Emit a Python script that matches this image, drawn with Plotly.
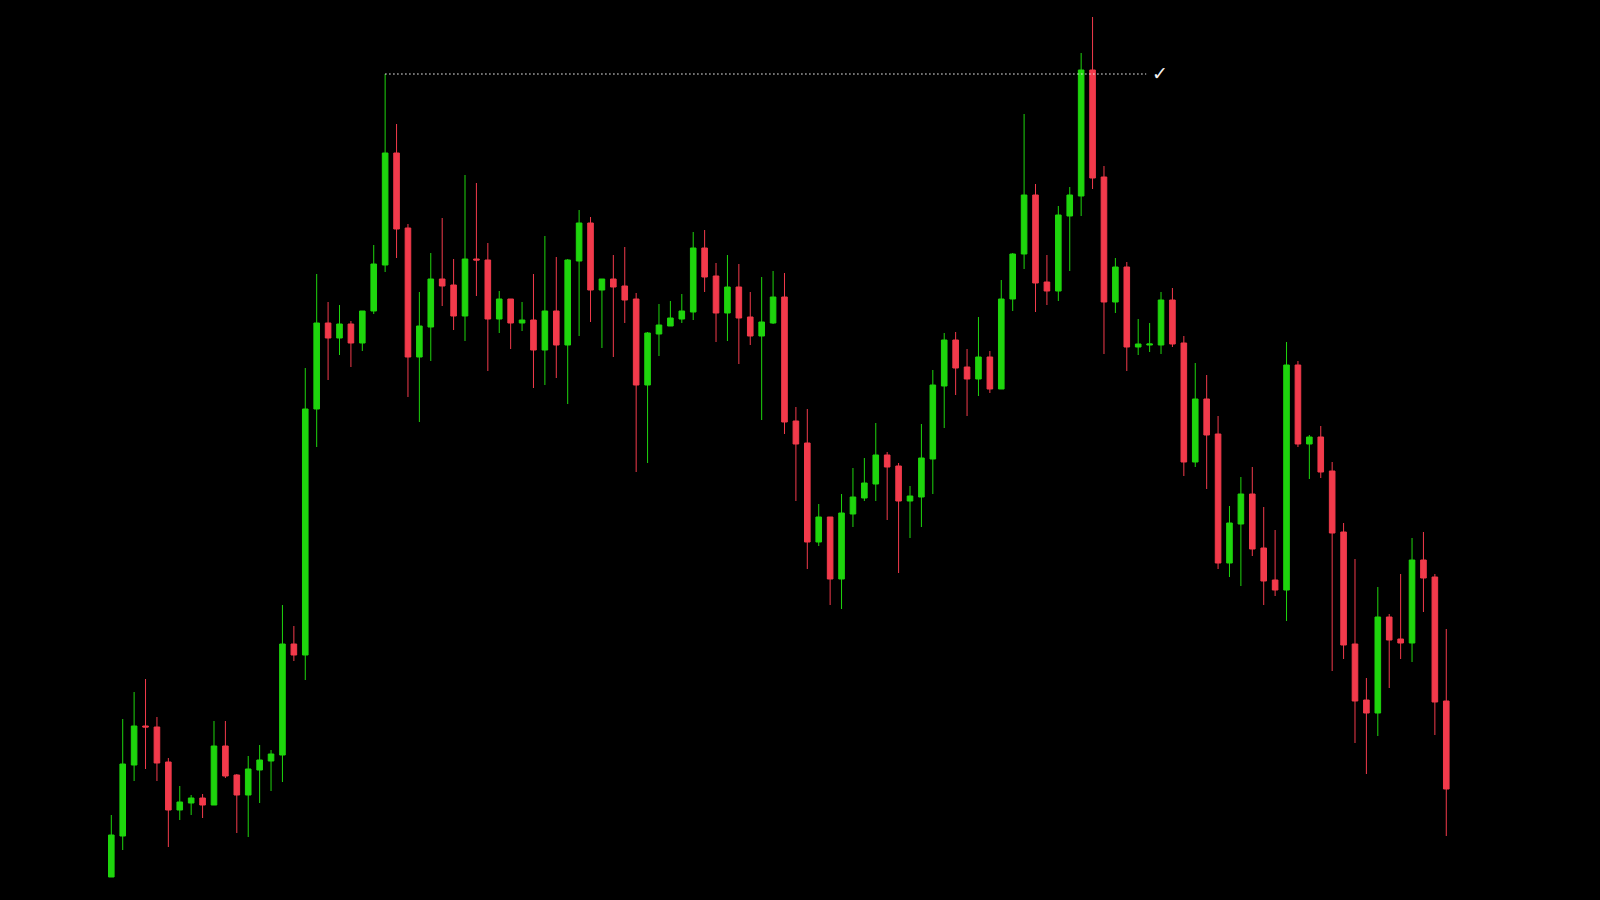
import plotly.graph_objects as go

# OHLC values (arbitrary price units)
opens = [23, 64, 135, 174, 173, 138, 90, 97, 102, 95, 154, 125, 105, 130, 139, 145, 256, 245, 491, 577,
         562, 576, 557, 589, 635, 747, 672, 543, 573, 621, 615, 584, 641, 640, 581, 601, 577, 580, 550, 589,
         555, 639, 677, 610, 621, 614, 601, 515, 566, 574, 581, 588, 652, 624, 587, 613, 583, 564, 577, 603,
         479, 457, 358, 383, 321, 386, 402, 416, 445, 434, 399, 403, 441, 514, 560, 533, 521, 543, 511, 601,
         646, 705, 618, 609, 684, 704, 830, 723, 598, 633, 553, 555, 555, 600, 557, 438, 501, 466, 337, 376,
         406, 352, 320, 310, 535, 456, 463, 429, 368, 256, 200, 187, 283, 261, 257, 340, 323, 199]
highs = [85, 181, 208, 221, 183, 142, 114, 105, 106, 179, 179, 126, 144, 155, 150, 295, 274, 532, 626, 598,
         595, 579, 589, 655, 826, 776, 676, 608, 647, 682, 641, 725, 717, 657, 609, 601, 598, 626, 664, 643,
         641, 690, 683, 621, 645, 653, 607, 568, 596, 599, 606, 668, 670, 637, 645, 636, 608, 623, 629, 627,
         493, 491, 396, 383, 406, 432, 442, 477, 448, 437, 414, 476, 530, 567, 568, 551, 583, 549, 620, 647,
         786, 716, 645, 694, 713, 847, 883, 734, 642, 638, 581, 577, 608, 612, 564, 537, 525, 484, 394, 423,
         433, 393, 370, 558, 539, 465, 474, 438, 377, 341, 222, 313, 286, 326, 362, 368, 326, 271]
lows = [23, 50, 119, 131, 119, 53, 80, 85, 82, 95, 122, 67, 63, 97, 109, 118, 239, 220, 453, 520,
        545, 533, 549, 586, 628, 642, 503, 478, 539, 594, 570, 559, 604, 529, 567, 551, 569, 512, 515, 522,
        496, 564, 578, 552, 543, 577, 428, 437, 544, 574, 577, 580, 608, 558, 559, 536, 555, 480, 576, 466,
        399, 331, 354, 295, 291, 373, 399, 399, 380, 327, 362, 373, 406, 472, 505, 484, 504, 507, 511, 589,
        631, 588, 595, 599, 629, 684, 711, 546, 587, 529, 545, 548, 546, 553, 424, 433, 411, 331, 323, 314,
        344, 295, 304, 279, 453, 421, 422, 229, 241, 157, 126, 164, 212, 241, 238, 288, 165, 64]
closes = [65, 136, 174, 173, 137, 90, 98, 102, 95, 154, 124, 105, 131, 140, 146, 256, 245, 491, 577, 562,
          576, 557, 589, 636, 747, 671, 543, 574, 621, 614, 584, 641, 640, 581, 601, 577, 580, 550, 589, 555,
          640, 677, 610, 621, 613, 600, 515, 567, 575, 582, 589, 652, 623, 587, 613, 582, 564, 578, 603, 478,
          456, 358, 383, 321, 387, 403, 417, 445, 433, 399, 404, 442, 515, 560, 532, 521, 543, 511, 601, 646,
          705, 617, 609, 685, 705, 830, 722, 598, 633, 553, 556, 556, 600, 556, 438, 501, 465, 337, 377, 406,
          351, 319, 310, 535, 456, 463, 428, 367, 255, 199, 187, 283, 260, 257, 340, 322, 198, 111]

x = list(range(len(opens)))

# reference level (high of candle 24) and where it stops
level_start = 24
level_end = 90.7
level_value = highs[24]
mark_x = 91.95

GREEN = "#1ed50d"
RED = "#f23a4b"

fig = go.Figure()
fig.add_trace(go.Candlestick(
    x=x, open=opens, high=highs, low=lows, close=closes,
    increasing=dict(line=dict(color=GREEN, width=1), fillcolor=GREEN),
    decreasing=dict(line=dict(color=RED, width=1), fillcolor=RED),
    whiskerwidth=0,
    hoverinfo="skip",
    showlegend=False,
))

fig.add_shape(type="line", xref="x", yref="y",
              x0=level_start, x1=level_end, y0=level_value, y1=level_value,
              line=dict(color="#ffffff", width=1, dash="1.5px,2.5px"))

fig.add_annotation(x=mark_x, y=level_value + 1, xref="x", yref="y",
                   text="✓", showarrow=False,
                   font=dict(family="DejaVu Sans", size=19, color="#f2f2f2"),
                   xanchor="center", yanchor="middle")

spacing = 11.41
first_px = 111.3
x_lo = -first_px / spacing
x_hi = (1600 - first_px) / spacing

fig.update_layout(
    width=1600, height=900,
    margin=dict(l=0, r=0, t=0, b=0, pad=0),
    paper_bgcolor="#000000", plot_bgcolor="#000000",
    xaxis=dict(range=[x_lo, x_hi], visible=False, showgrid=False, zeroline=False,
               rangeslider=dict(visible=False), fixedrange=True),
    yaxis=dict(range=[0, 900], visible=False, showgrid=False, zeroline=False, fixedrange=True),
    showlegend=False,
)

fig.write_html("out.html", config={"displayModeBar": False})

# remove the default page margin so the figure fills the window exactly
with open("out.html", "r", encoding="utf-8") as f:
    html = f.read()
html = html.replace("<head>", "<head><style>html,body{margin:0;padding:0;background:#000;overflow:hidden;}</style>", 1)
with open("out.html", "w", encoding="utf-8") as f:
    f.write(html)
